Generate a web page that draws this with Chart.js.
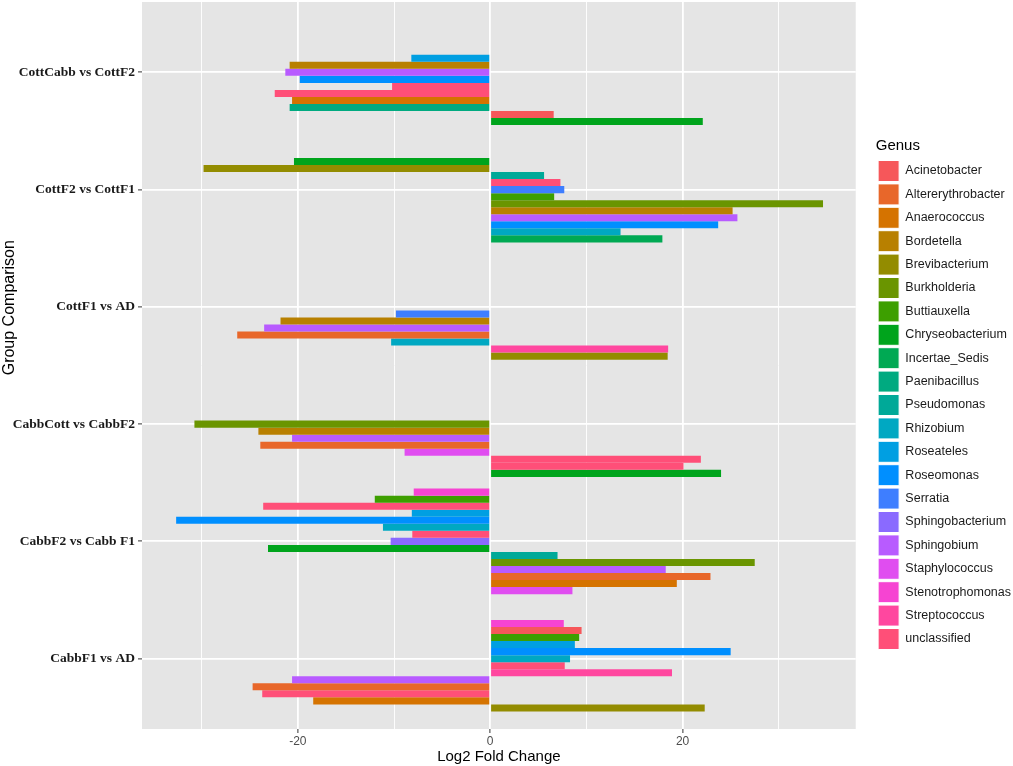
<!DOCTYPE html>
<html>
<head>
<meta charset="utf-8">
<script src="https://cdn.jsdelivr.net/npm/chart.js@4/dist/chart.umd.min.js"></script>
<style>
  html, body { margin: 0; padding: 0; background: #FFFFFF; }
  canvas { display: block; }
</style>
</head>
<body>
<canvas id="c" width="1013" height="766"></canvas>
<script>
// ---------------- DATA ----------------
const comparisons = [
  'CottCabb vs CottF2',
  'CottF2 vs CottF1',
  'CottF1 vs AD',
  'CabbCott vs CabbF2',
  'CabbF2 vs Cabb F1',
  'CabbF1 vs AD'
];

const genera = [
  'Acinetobacter', 'Altererythrobacter', 'Anaerococcus', 'Bordetella', 'Brevibacterium',
  'Burkholderia', 'Buttiauxella', 'Chryseobacterium', 'Incertae_Sedis', 'Paenibacillus',
  'Pseudomonas', 'Rhizobium', 'Roseateles', 'Roseomonas', 'Serratia', 'Sphingobacterium',
  'Sphingobium', 'Staphylococcus', 'Stenotrophomonas', 'Streptococcus', 'unclassified'
];

// bars of each comparison, listed top to bottom
const cottCabbVsCottF2Genus = ['Roseateles', 'Bordetella', 'Sphingobium', 'Roseomonas', 'unclassified',
  'unclassified', 'Anaerococcus', 'Paenibacillus', 'Acinetobacter', 'Chryseobacterium'];
const cottCabbVsCottF2Lfc = [-8.2, -20.85, -21.3, -19.8, -10.2, -22.4, -20.6, -20.85, 6.6, 22.1];

const cottF2VsCottF1Genus = ['Chryseobacterium', 'Brevibacterium', 'Pseudomonas', 'unclassified', 'Serratia',
  'Buttiauxella', 'Burkholderia', 'Bordetella', 'Sphingobium', 'Roseomonas', 'Rhizobium', 'Incertae_Sedis'];
const cottF2VsCottF1Lfc = [-20.4, -29.8, 5.6, 7.3, 7.7, 6.65, 34.6, 25.2, 25.7, 23.7, 13.55, 17.9];

const cottF1VsAdGenus = ['Serratia', 'Bordetella', 'Sphingobium', 'Altererythrobacter', 'Rhizobium',
  'Streptococcus', 'Brevibacterium'];
const cottF1VsAdLfc = [-9.8, -21.8, -23.5, -26.3, -10.3, 18.5, 18.45];

const cabbCottVsCabbF2Genus = ['Burkholderia', 'Bordetella', 'Sphingobium', 'Altererythrobacter', 'Staphylococcus',
  'unclassified', 'unclassified', 'Chryseobacterium'];
const cabbCottVsCabbF2Lfc = [-30.75, -24.1, -20.6, -23.9, -8.9, 21.9, 20.1, 24.0];

const cabbF2VsCabbF1Genus = ['Stenotrophomonas', 'Buttiauxella', 'unclassified', 'Roseateles', 'Roseomonas',
  'Rhizobium', 'unclassified', 'Sphingobacterium', 'Chryseobacterium', 'Pseudomonas', 'Burkholderia',
  'Sphingobium', 'Altererythrobacter', 'Anaerococcus', 'Staphylococcus'];
const cabbF2VsCabbF1Lfc = [-7.95, -12.0, -23.6, -8.15, -32.65, -11.15, -8.1, -10.35, -23.1, 7.0, 27.5,
  18.25, 22.9, 19.4, 8.55];

const cabbF1VsAdGenus = ['Stenotrophomonas', 'Acinetobacter', 'Buttiauxella', 'Roseateles', 'Roseomonas',
  'Rhizobium', 'unclassified', 'Streptococcus', 'Sphingobium', 'Altererythrobacter', 'unclassified',
  'Anaerococcus', 'Brevibacterium'];
const cabbF1VsAdLfc = [7.65, 9.5, 9.25, 8.8, 25.0, 8.3, 7.75, 18.9, -20.6, -24.7, -23.7, -18.4, 22.3];

const xGridValues = [-30, -20, -10, 0, 10, 20, 30];
const xLabelValues = [-20, 0, 20];

// ---------------- STYLE ----------------
const genusColors = [
  '#F6575A', '#E8672A', '#D57300', '#B88000', '#938C00',
  '#6A9500', '#3D9F00', '#00A41C', '#00A953', '#00AA80',
  '#00A998', '#00A8C2', '#009FE2', '#008FFF', '#3E7EFF', '#8A6AFF',
  '#B85BFF', '#E04DF0', '#F644D2', '#FF479F', '#FF4F78'
];
const colorOf = g => genusColors[genera.indexOf(g)];

const groups = [
  { genus: cottCabbVsCottF2Genus, lfc: cottCabbVsCottF2Lfc },
  { genus: cottF2VsCottF1Genus, lfc: cottF2VsCottF1Lfc },
  { genus: cottF1VsAdGenus, lfc: cottF1VsAdLfc },
  { genus: cabbCottVsCabbF2Genus, lfc: cabbCottVsCabbF2Lfc },
  { genus: cabbF2VsCabbF1Genus, lfc: cabbF2VsCabbF1Lfc },
  { genus: cabbF1VsAdGenus, lfc: cabbF1VsAdLfc }
];

// dodge slots: bars fill the slots from the bottom of each band (as ggplot dodge did)
const nSlots = Math.max(...groups.map(g => g.lfc.length));
const datasets = [];
for (let s = 0; s < nSlots; s++) {
  const data = [];
  groups.forEach((g, gi) => {
    const k = s - (nSlots - g.lfc.length);
    if (k >= 0) data.push({ x: g.lfc[k], y: gi + 1, genus: g.genus[k] });
  });
  datasets.push({
    label: 'slot' + s,
    data: data,
    backgroundColor: ctx => (ctx.raw ? colorOf(ctx.raw.genus) : '#999'),
    borderWidth: 0,
    barPercentage: 1.0,
    categoryPercentage: 0.9
  });
}

const panelBg = {
  id: 'panelBg',
  beforeDraw(chart) {
    const { ctx, chartArea: a } = chart;
    ctx.save();
    ctx.fillStyle = '#E5E5E5';
    ctx.fillRect(a.left, a.top, a.right - a.left, a.bottom - a.top);
    ctx.restore();
  }
};

const pad = '\u00A0'.repeat(26);

new Chart(document.getElementById('c'), {
  type: 'bar',
  data: { datasets: datasets },
  plugins: [panelBg],
  options: {
    responsive: false,
    animation: false,
    indexAxis: 'y',
    layout: { padding: { top: 2, right: -8, bottom: 0, left: 0 } },
    scales: {
      x: {
        type: 'linear',
        min: -36.2,
        max: 38.0,
        afterBuildTicks: s => { s.ticks = xGridValues.map(v => ({ value: v })); },
        ticks: {
          callback: v => (xLabelValues.includes(v) ? String(v) : ''),
          color: '#4D4D4D',
          font: { family: 'Liberation Sans', size: 12 },
          padding: 1,
          maxRotation: 0,
          autoSkip: false
        },
        grid: {
          color: '#FFFFFF',
          lineWidth: ctx => (ctx.tick && xLabelValues.includes(ctx.tick.value) ? 1.8 : 0.9),
          drawTicks: true,
          tickLength: 4,
          tickWidth: 1,
          tickColor: ctx => (ctx.tick && xLabelValues.includes(ctx.tick.value) ? '#333333' : 'rgba(0,0,0,0)')
        },
        border: { display: false },
        title: {
          display: true,
          text: 'Log2 Fold Change',
          color: '#000000',
          font: { family: 'Liberation Sans', size: 15 },
          padding: { top: 1, bottom: 0 }
        },
        afterFit: s => { s.height = 37; s.paddingLeft = 0; s.paddingRight = 0; }
      },
      y: {
        type: 'linear',
        reverse: true,
        min: 0.4,
        max: 6.6,
        offset: false,
        afterBuildTicks: s => { s.ticks = comparisons.map((c, i) => ({ value: i + 1 })); },
        ticks: {
          callback: v => comparisons[v - 1],
          color: '#1A1A1A',
          font: { family: 'Liberation Serif', size: 13.5, weight: 'bold' },
          padding: 3,
          autoSkip: false
        },
        grid: {
          offset: false,
          color: '#FFFFFF',
          lineWidth: 1.8,
          drawTicks: true,
          tickLength: 4,
          tickWidth: 1,
          tickColor: '#333333'
        },
        border: { display: false },
        title: {
          display: true,
          text: pad + 'Group Comparison',
          color: '#000000',
          font: { family: 'Liberation Sans', size: 16 },
          padding: { top: 0, bottom: 0 }
        },
        afterFit: s => { s.width = 142; s.paddingTop = 0; s.paddingBottom = 0; }
      },
      gap: {
        type: 'linear',
        position: 'right',
        display: true,
        grid: { display: false, drawTicks: false },
        ticks: { display: false },
        border: { display: false },
        afterFit: s => { s.width = 20; s.paddingTop = 0; s.paddingBottom = 0; }
      }
    },
    plugins: {
      tooltip: { enabled: false },
      legend: {
        position: 'right',
        align: 'center',
        onClick: null,
        title: {
          display: true,
          text: 'Genus',
          position: 'start',
          color: '#000000',
          font: { family: 'Liberation Sans', size: 15 },
          padding: { top: 22, bottom: 2 }
        },
        labels: {
          boxWidth: 21,
          boxHeight: 21,
          padding: 2.4,
          color: '#1A1A1A',
          font: { family: 'Liberation Sans', size: 12.5 },
          generateLabels: () => genera.map((g, i) => ({
            text: g,
            fillStyle: genusColors[i],
            strokeStyle: '#FFFFFF',
            lineWidth: 1,
            hidden: false,
            fontColor: '#1A1A1A',
            datasetIndex: i
          }))
        }
      }
    }
  }
});
</script>
</body>
</html>
